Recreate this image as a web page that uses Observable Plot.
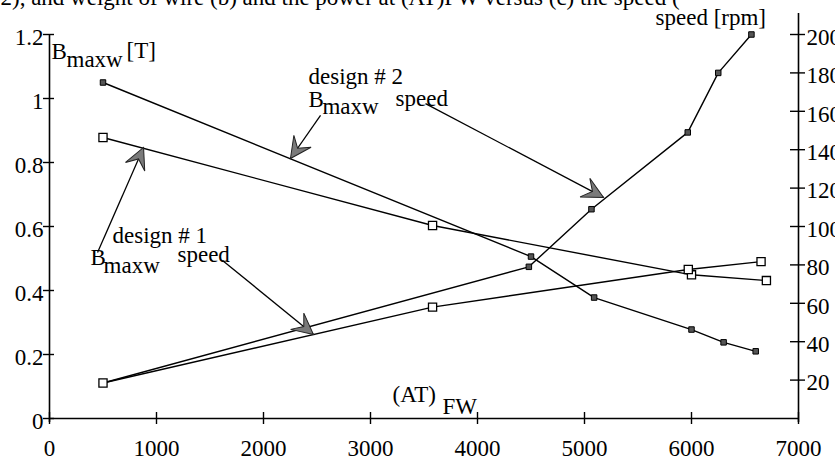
<!DOCTYPE html>
<html>
<head>
<meta charset="utf-8">
<script src="https://cdn.jsdelivr.net/npm/d3@7"></script>
<script src="https://cdn.jsdelivr.net/npm/@observablehq/plot@0.6"></script>
<style>
  html, body { margin: 0; padding: 0; background: #fff; overflow: hidden; }
</style>
</head>
<body>
<div id="chart"></div>
<script>
// ---------- data ----------
// design #2 : B_maxw [T] (filled squares, left axis)
const atFW_d2_B = [500, 4500, 5090, 6000, 6300, 6600];
const bmaxw_d2  = [1.05, 0.506, 0.378, 0.278, 0.238, 0.21];
// design #2 : speed [rpm] (filled squares, right axis)
const atFW_d2_speed = [500, 4480, 5065, 5965, 6250, 6560];
const speed_d2      = [18.5, 79, 109, 149, 180, 200];
// design #1 : B_maxw [T] (open squares, left axis)
const atFW_d1_B = [500, 3580, 6000, 6700];
const bmaxw_d1  = [0.878, 0.603, 0.449, 0.431];
// design #1 : speed [rpm] (open squares, right axis)
const atFW_d1_speed = [500, 3580, 5970, 6650];
const speed_d1      = [18.5, 58, 77.6, 81.7];

// axes
const xTicks   = [0, 1000, 2000, 3000, 4000, 5000, 6000, 7000];
const bTicks   = [0, 0.2, 0.4, 0.6, 0.8, 1, 1.2];
const rpmTicks = [20, 40, 60, 80, 100, 120, 140, 160, 180, 200];
const rpmPerTesla = 200 / 1.2; // 200 rpm on the right axis lines up with 1.2 T on the left

// annotation texts (x in (AT)FW units, y in tesla units)
const labelText = ["B", "maxw", "[T]", "speed [rpm]",
                   "design # 2", "B", "maxw", "speed",
                   "design # 1", "B", "maxw", "speed",
                   "(AT)", "FW"];
const labelX = [19, 159, 720, 5664, 2421, 2421, 2551, 3234, 589, 383, 505, 1196, 3206, 3673];
const labelY = [1.148, 1.123, 1.151, 1.254, 1.067, 0.998, 0.976, 1.001, 0.570, 0.504, 0.479, 0.511, 0.076, 0.036];

// annotation arrows (start -> tip)
const arrowStartX = [2533, 3514, 449, 1617];
const arrowStartY = [0.947, 0.984, 0.519, 0.494];
const arrowTipX   = [2252, 5178, 879, 2467];
const arrowTipY   = [0.8125, 0.691, 0.847, 0.2625];

const captionText = "2), and weight of wire (b) and the power at (AT)FW versus (c) the speed (";

// ---------- build ----------
const W = 835, H = 462, mL = 49, mR = 37, mT = 34, mB = 44;
const xDomain = [0, 7000], yDomain = [0, 1.2];
const toT = v => v / rpmPerTesla;

const d2B = atFW_d2_B.map((x, i) => ({x, y: bmaxw_d2[i]}));
const d2S = atFW_d2_speed.map((x, i) => ({x, y: toT(speed_d2[i])}));
const d1B = atFW_d1_B.map((x, i) => ({x, y: bmaxw_d1[i]}));
const d1S = atFW_d1_speed.map((x, i) => ({x, y: toT(speed_d1[i])}));
const labels = labelText.map((text, i) => ({text, x: labelX[i], y: labelY[i]}));

// pixel per unit, derived from the layout, to orient the arrow heads
const kx = (W - mL - mR) / (xDomain[1] - xDomain[0]);
const ky = (H - mT - mB) / (yDomain[1] - yDomain[0]);
const arrows = arrowStartX.map((sx, i) => {
  const dx = (arrowTipX[i] - sx) * kx;
  const dy = -(arrowTipY[i] - arrowStartY[i]) * ky;
  return {sx, sy: arrowStartY[i], tx: arrowTipX[i], ty: arrowTipY[i],
          angle: Math.atan2(dx, -dy) * 180 / Math.PI};
});

const arrowHead = {
  draw(ctx, size) {
    const r = Math.sqrt(size / Math.PI);
    const L = 2.1 * r, w = 1.05 * r, n = 1.25 * r;
    ctx.moveTo(0, 0);
    ctx.lineTo(w, L);
    ctx.lineTo(0, n);
    ctx.lineTo(-w, L);
    ctx.closePath();
  }
};

const fmtT = d => String(+d.toFixed(1));

const plot = Plot.plot({
  width: W, height: H,
  marginLeft: mL, marginRight: mR, marginTop: mT, marginBottom: mB,
  style: {fontFamily: "'Liberation Serif', 'Times New Roman', serif", fontSize: "23px",
          background: "#fff", color: "#000", overflow: "hidden"},
  x: {domain: xDomain, label: null},
  y: {domain: yDomain, label: null},
  marks: [
    // cropped caption line at the very top (only its lower edge shows)
    Plot.text([captionText], {frameAnchor: "top-left", lineAnchor: "middle", dx: -mL, dy: -mT - 3,
      textAnchor: "start", fill: "#000", fontSize: 23}),
    // axis lines
    Plot.ruleX([xDomain[0]], {stroke: "#000", strokeWidth: 1.6, insetBottom: -4}),
    Plot.ruleY([yDomain[0]], {stroke: "#000", strokeWidth: 1.6}),
    Plot.ruleX([xDomain[1]], {stroke: "#000", strokeWidth: 1.6, insetTop: -21, insetBottom: -4}),
    // crossing tick marks
    Plot.ruleY(bTicks, {x1: xDomain[0], x2: xDomain[0], insetLeft: -6, insetRight: -5, stroke: "#000", strokeWidth: 1.4}),
    Plot.ruleX(xTicks, {y1: yDomain[0], y2: yDomain[0], insetTop: -6, insetBottom: -6, stroke: "#000", strokeWidth: 1.4}),
    Plot.ruleY(rpmTicks.map(toT), {x1: xDomain[1], x2: xDomain[1], insetLeft: -8, insetRight: -7, stroke: "#000", strokeWidth: 1.4}),
    // tick labels
    Plot.axisY(bTicks, {anchor: "left", tickSize: 0, tickPadding: 6, tickFormat: fmtT, dy: 3, label: null, fontSize: 23}),
    Plot.axisX(xTicks, {anchor: "bottom", tickSize: 0, tickPadding: 21, tickFormat: d => String(d), label: null, fontSize: 23}),
    Plot.axisY(rpmTicks.map(toT), {anchor: "right", tickSize: 0, tickPadding: 8,
      tickFormat: d => String(Math.round(d * rpmPerTesla)), dy: 3, label: null, fontSize: 23}),
    // series lines
    Plot.line(d2B, {x: "x", y: "y", stroke: "#000", strokeWidth: 1.4}),
    Plot.line(d2S, {x: "x", y: "y", stroke: "#000", strokeWidth: 1.4}),
    Plot.line(d1B, {x: "x", y: "y", stroke: "#000", strokeWidth: 1.4}),
    Plot.line(d1S, {x: "x", y: "y", stroke: "#000", strokeWidth: 1.4}),
    // annotation arrows
    Plot.link(arrows, {x1: "sx", y1: "sy", x2: "tx", y2: "ty", stroke: "#000", strokeWidth: 1.3}),
    Plot.dot(arrows, {x: "tx", y: "ty", symbol: arrowHead, r: 10, rotate: "angle",
      fill: "#7a7a7a", stroke: "#222", strokeWidth: 1}),
    // markers
    Plot.dot(d2B, {x: "x", y: "y", symbol: "square", r: 3.1, fill: "#555", stroke: "#000", strokeWidth: 1}),
    Plot.dot(d2S, {x: "x", y: "y", symbol: "square", r: 3.1, fill: "#555", stroke: "#000", strokeWidth: 1}),
    Plot.dot(d1B, {x: "x", y: "y", symbol: "square", r: 4.6, fill: "#fff", stroke: "#000", strokeWidth: 1.3}),
    Plot.dot(d1S, {x: "x", y: "y", symbol: "square", r: 4.6, fill: "#fff", stroke: "#000", strokeWidth: 1.3}),
    // annotation labels
    Plot.text(labels, {x: "x", y: "y", text: "text", textAnchor: "start", fill: "#000", fontSize: 23})
  ]
});

document.getElementById("chart").appendChild(plot);
</script>
</body>
</html>
